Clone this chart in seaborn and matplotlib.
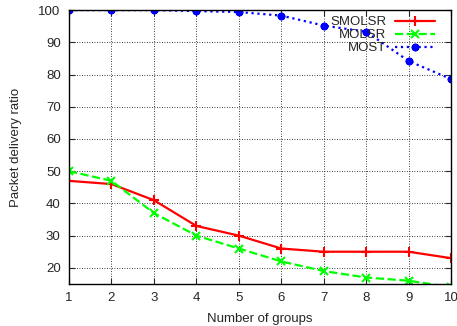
import pandas as pd
import matplotlib
matplotlib.use("Agg")
import matplotlib.pyplot as plt
import seaborn as sns

groups = [1, 2, 3, 4, 5, 6, 7, 8, 9, 10]
smolsr = [47, 46, 41, 33, 30, 26, 25, 25, 25, 23]
molsr = [50, 47, 37, 30, 26, 22, 19, 17, 16, 14]
most = [100, 100, 100, 99.7, 99.4, 98.3, 95.2, 93.3, 84.2, 78.6]

df = pd.DataFrame({"groups": groups * 3,
                   "ratio": smolsr + molsr + most,
                   "proto": ["SMOLSR"] * 10 + ["MOLSR"] * 10 + ["MOST"] * 10})

sns.set_style("ticks")
plt.rcParams['font.family'] = ['Liberation Sans', 'DejaVu Sans']

fig = plt.figure(figsize=(4.57, 3.26), dpi=100)
ax = fig.add_axes([0.151, 0.129, 0.836, 0.840])

styles = {"SMOLSR": ("#ff0000", "-", "+", 7),
          "MOLSR": ("#00ff00", "--", "x", 5.5),
          "MOST": ("#0000ff", ":", (8, 2, 0), 5.5)}
for name in ["SMOLSR", "MOLSR", "MOST"]:
    c, ls, m, ms = styles[name]
    sns.lineplot(data=df[df.proto == name], x="groups", y="ratio", ax=ax,
                 color=c, linestyle=ls, marker=m, markersize=ms,
                 markeredgecolor=c, markeredgewidth=1.5, linewidth=1.6,
                 label=name)

ax.set_xlim(1, 10)
ax.set_ylim(15, 100)
ax.set_xticks(groups)
ax.set_yticks([20, 30, 40, 50, 60, 70, 80, 90, 100])
ax.grid(True, color="black", linestyle=(0, (1, 2)), linewidth=0.6)
ax.tick_params(direction="in", top=True, right=True, labelsize=9.5, length=4, pad=6)
for s in ax.spines.values():
    s.set_color("black")
    s.set_linewidth(1.0)
ax.set_xlabel("Number of groups", fontsize=9.5, labelpad=6)
ax.set_ylabel("Packet delivery ratio", fontsize=9.5, labelpad=12)

ax.legend(loc="upper right", bbox_to_anchor=(0.958, 0.978), frameon=False,
          markerfirst=False, fontsize=9.5, handlelength=3.0, borderaxespad=0,
          borderpad=0, labelspacing=0.05, handletextpad=0.7)

fig.savefig("out.png", dpi=100)
